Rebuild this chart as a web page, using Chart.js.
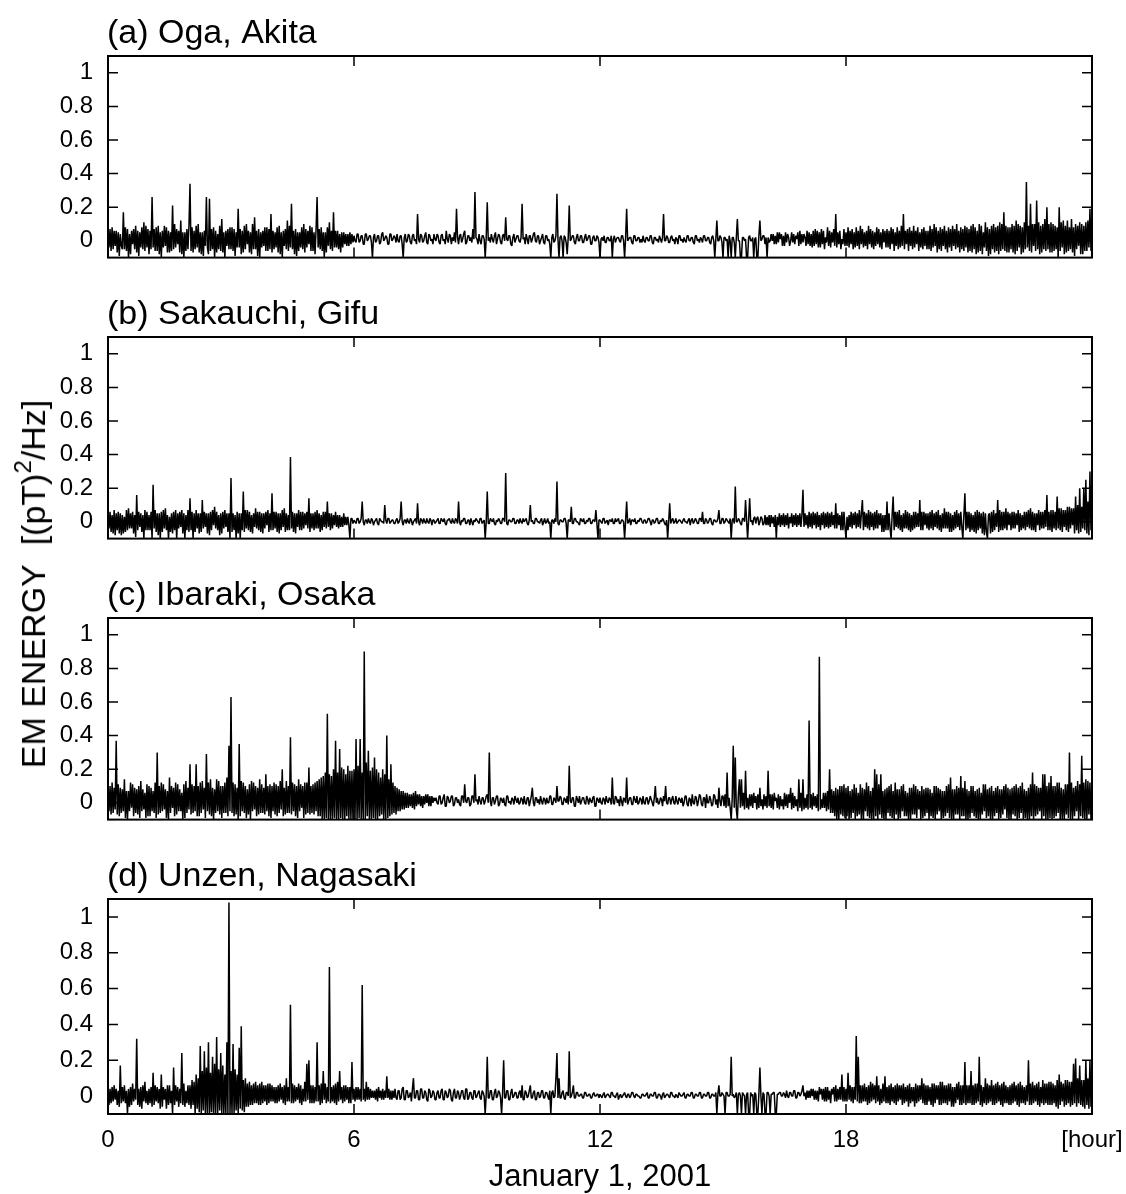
<!DOCTYPE html>
<html>
<head>
<meta charset="utf-8">
<script src="https://cdn.jsdelivr.net/npm/chart.js@4.4.1/dist/chart.umd.min.js"></script>
<style>
  body { margin: 0; background: #fff; }
  #page { position: relative; width: 1126px; height: 1194px; font-family: "Liberation Sans", Arial, sans-serif; color: #000; }
  #page canvas { position: absolute; left: 0; }
  #ylabel {
    position: absolute; left: 33px; top: 584px;
    transform: translate(-50%, -50%) rotate(-90deg);
    font-size: 34px; white-space: nowrap; line-height: 1;
  }
  #ylabel .sup { font-size: 24px; position: relative; top: -14px; }
</style>
</head>
<body>
<div id="page">
  <canvas id="panel-a" width="1126" height="281" style="top:6px"></canvas>
  <canvas id="panel-b" width="1126" height="281" style="top:287px"></canvas>
  <canvas id="panel-c" width="1126" height="281" style="top:568px"></canvas>
  <canvas id="panel-d" width="1126" height="345" style="top:849px"></canvas>
  <div id="ylabel">EM ENERGY&nbsp;&nbsp;[(pT)<span class="sup">2</span>/Hz]</div>
</div>
<script>
console.log('em-energy-panels');

// one sample every 90 s, 40 per row = 1 hour per row
const STEP_H = 0.025;

const xTicks = [0, 6, 12, 18, 24];
const yTicks = [0, 0.2, 0.4, 0.6, 0.8, 1];

const stations = ['(a) Oga, Akita', '(b) Sakauchi, Gifu', '(c) Ibaraki, Osaka', '(d) Unzen, Nagasaki'];

const oga = [
  .05,-.04,.07,-.06,.08,-.05,.06,-.03,.06,-.07,.05,-.09,.04,-.03,-.05,.17,-.05,.08,-.06,.07,-.1,.04,-.08,.06,-.02,.07,-.05,.09,-.07,.06,-.09,.05,-.04,.08,-.05,.11,-.06,.09,-.04,.07,
  -.08,.06,-.05,.26,-.04,.07,-.06,.08,-.06,.09,-.08,.05,-.1,.06,-.04,.09,-.03,.08,-.07,.06,-.07,.05,-.06,.21,-.05,.1,-.04,.07,-.02,.06,-.07,.12,-.08,.05,-.1,.05,-.06,.07,-.05,.09,
  .34,-.06,.08,-.07,.06,-.05,.09,-.04,.1,-.07,.05,-.08,.05,-.09,.06,-.03,.26,-.04,-.08,.25,-.06,.07,-.05,.08,-.1,.06,-.07,.04,-.05,.09,-.06,.13,-.07,.05,-.1,.06,-.03,.07,-.05,.08,
  -.05,.08,-.06,.07,-.09,.05,-.04,.19,-.04,.07,-.08,.06,-.07,.09,-.05,.1,-.02,.06,-.07,.05,-.08,.1,-.05,.14,-.05,.06,-.09,.07,-.1,.05,-.04,.06,-.03,.08,-.06,.08,-.06,.07,-.05,.16,
  -.07,.06,-.05,.05,-.04,.08,-.07,.09,-.08,.05,-.1,.06,-.03,.07,-.05,.12,-.06,.09,-.04,.22,-.05,.06,-.08,.07,-.09,.05,-.06,.05,-.04,.08,-.05,.1,-.07,.07,-.04,.06,-.02,.09,-.06,.08,
  -.06,.05,-.08,.07,.26,-.04,.07,-.05,.08,-.06,.05,-.1,.05,-.07,.08,-.03,.11,-.05,.06,-.06,.17,-.04,.06,-.04,.06,-.05,.04,-.07,.05,-.04,.05,-.02,.04,-.03,.04,-.03,.05,-.02,.04,-.01,
  .03,.0,-.01,.04,.04,-.01,.0,.03,.03,-.02,-.02,.04,.04,.0,.01,.03,.03,-.01,-.1,.02,.04,-.01,.0,.03,.03,-.02,-.01,.04,.05,.0,.01,.03,.02,-.02,-.02,.04,.04,.0,.01,.03,
  .02,-.01,.04,.0,-.01,.03,.03,-.02,-.1,.02,.04,-.01,.0,.04,.03,-.01,-.02,.03,.04,.0,.01,-.02,.16,.01,-.01,.04,.03,-.01,.0,.03,.05,-.01,-.02,.04,.03,.0,.01,-.02,.04,.01,
  .0,.04,.03,-.01,-.02,.03,.04,.0,.01,-.02,.06,.01,-.01,.04,.03,-.02,.02,.0,.05,-.01,.19,.02,-.02,.03,.04,-.01,.01,.04,.06,-.02,-.01,.03,.03,.0,.02,-.01,.07,.01,.29,.02,
  .01,-.02,.04,.0,-.02,.03,.03,.01,-.1,.02,.23,.0,.02,-.01,.04,.01,-.01,.03,.05,-.02,.01,.04,.03,-.01,-.02,.03,.04,.0,.14,.01,.0,.03,.03,-.02,-.03,.02,.04,-.01,.01,.03,
  .03,.0,-.01,.02,.22,.01,.02,-.02,.04,.01,-.02,.03,.03,-.01,.01,.04,.05,.0,-.01,.03,.03,-.02,.0,.02,.04,-.01,-.02,.03,.03,.0,.01,-.02,-.1,.02,.04,-.01,.0,.03,.28,.01,
  -.1,.02,.03,.0,-.1,.03,.02,-.01,-.08,.02,.21,.0,.01,.03,.03,-.01,-.02,.02,.04,.0,.0,.03,.03,-.01,-.01,.02,.04,.0,.01,.03,.03,-.02,-.02,.02,.03,.0,.0,.03,.02,-.01,
  -.1,.01,.02,.0,.03,-.01,-.01,.02,.02,.0,.0,.03,-.1,.01,.03,-.01,.01,.02,.02,.0,-.01,.03,.03,.0,-.1,.02,.19,.0,.01,.02,.02,-.01,-.02,.03,.03,.0,.0,.02,.02,-.01,
  .01,-.01,.03,.0,-.01,.02,.02,.0,.0,.03,.03,-.01,-.02,.02,.02,.0,.01,-.01,.03,.01,-.01,.02,.16,.0,.0,.03,.02,-.01,-.01,.02,.03,.0,.01,-.02,.02,.01,-.02,.03,.03,.0,
  .01,-.01,.02,.0,-.01,.03,.03,.0,.0,.02,.02,-.01,-.02,.03,.03,.0,.01,-.01,.02,.01,-.01,.03,.03,.0,.0,.02,.02,-.01,-.02,.02,.03,.0,-.1,.01,.12,.0,.0,.03,.02,-.01,
  -.1,.02,.02,.0,.01,-.1,.03,.0,-.1,.02,.02,-.01,-.1,.02,.13,.0,.0,-.1,-.1,.02,.02,.0,.01,-.1,-.1,.02,.03,.0,.0,.02,-.1,.01,.02,-.1,-.1,.03,.12,.0,.01,.03,
  .03,-.02,.02,-.1,.02,-.01,.0,.04,.0,.04,-.02,.03,-.02,.05,-.01,.05,.01,.04,-.03,.03,-.03,.05,-.01,.04,.02,-.03,.0,.05,-.01,.04,-.02,.03,.01,.05,-.03,.06,-.02,.04,-.01,.04,
  .02,-.03,.06,-.02,.05,-.03,.04,-.04,.06,-.03,.07,-.02,.06,-.04,.05,-.04,.07,-.02,.06,-.05,.02,-.01,.08,-.03,.06,-.04,.05,-.01,.07,-.03,.16,-.04,.05,-.02,.06,-.05,.01,-.02,.07,-.03,
  .05,-.03,.08,-.04,.06,-.02,.07,-.05,.05,-.04,.08,-.03,.06,-.05,.09,-.02,.07,-.04,.05,-.03,.06,-.05,.09,-.02,.07,-.04,.06,-.05,.05,-.03,.08,-.02,.07,-.04,.05,-.05,.07,-.01,.06,-.04,
  .07,-.04,.06,-.05,.08,-.02,.07,-.06,.05,-.03,.08,-.05,.06,-.04,.09,-.03,.16,-.05,.06,-.02,.07,-.06,.08,-.03,.06,-.05,.09,-.04,.06,-.02,.08,-.06,.05,-.04,.07,-.05,.08,-.03,.06,-.05,
  .06,-.05,.09,-.06,.07,-.04,.1,-.03,.08,-.07,.06,-.05,.08,-.06,.07,-.03,.09,-.05,.06,-.07,.08,-.04,.07,-.06,.09,-.03,.07,-.05,.1,-.04,.06,-.07,.08,-.05,.07,-.06,.09,-.04,.08,-.07,
  .07,-.06,.09,-.07,.1,-.05,.08,-.08,.06,-.07,.1,-.06,.09,-.08,.05,-.04,.11,-.06,.08,-.09,.07,-.08,.09,-.05,.1,-.07,.08,-.06,.09,-.08,.11,-.06,.1,-.05,.17,-.06,.09,-.07,.08,-.07,
  .08,-.05,.1,-.07,.09,-.08,.12,-.06,.1,-.04,.09,-.08,.08,-.07,.11,-.05,.35,-.04,.09,-.06,.22,-.07,.1,-.03,.1,-.06,.24,-.05,.11,-.08,.09,-.07,.1,-.05,.13,-.06,.2,-.05,.1,-.07,
  .11,-.07,.1,-.06,.09,-.05,.08,-.1,.2,-.06,.11,-.04,.12,-.08,.09,-.07,.12,-.06,.08,-.05,.13,-.07,.08,-.09,.1,-.05,.09,-.03,.11,-.08,.1,-.08,.09,-.06,.11,-.06,.12,-.04,.19,-.06
];

const sakauchi = [
  .05,-.04,.06,-.06,.04,-.07,.07,-.08,.05,-.05,.06,-.07,.05,-.08,.04,-.07,.03,-.06,.07,-.05,.08,-.04,.05,-.04,.06,-.07,.04,-.09,.16,-.05,.06,-.03,.05,-.06,.04,-.1,.07,-.05,.06,-.05,
  .04,-.05,.06,-.1,.22,-.04,.07,-.06,.05,-.08,.05,-.1,.06,-.06,.07,-.04,.08,-.05,.04,-.1,.03,-.06,.05,-.07,.06,-.05,.07,-.1,.05,-.04,.06,-.03,.07,-.07,.05,-.1,.04,-.05,.07,-.06,
  .14,-.05,.06,-.1,.05,-.06,.07,-.04,.05,-.07,.05,-.06,.13,-.04,.06,-.03,.05,-.07,.05,-.08,.06,-.05,.07,-.02,.09,-.04,.06,-.05,.04,-.08,.05,-.07,.06,-.04,.07,-.03,.05,-.06,.05,-.1,
  .26,-.06,.05,-.05,.04,-.1,.06,-.07,.05,-.1,.05,-.05,.18,-.06,.07,-.04,.07,-.05,.06,-.06,.04,-.07,.05,-.03,.08,-.04,.06,-.05,.06,-.06,.05,-.07,.05,-.04,.06,-.02,.07,-.06,.05,-.05,
  .17,-.05,.06,-.04,.06,-.06,.05,-.07,.05,-.05,.07,-.03,.08,-.06,.05,-.05,.04,-.05,.385,-.04,.06,-.06,.05,-.07,.05,-.03,.07,-.05,.06,-.05,.06,-.04,.05,-.02,.06,-.04,.14,-.06,.05,-.04,
  .05,-.05,.06,-.04,.07,-.04,.05,-.06,.04,-.05,.06,-.03,.06,-.04,.12,-.03,.05,-.05,.05,-.04,.04,-.02,.06,-.03,.04,-.04,.04,-.03,.03,-.03,.05,-.02,.03,-.02,.03,-.02,-.1,.02,.02,-.01,
  .01,.0,-.01,.02,.02,-.01,.0,.02,.12,.0,-.02,.01,.01,-.01,.02,.0,-.01,.02,.01,-.02,.0,.01,.02,-.01,-.02,.02,.01,.0,.0,-.01,.1,.01,-.01,.02,.02,-.01,.0,.01,.01,-.01,
  -.01,.01,.02,-.01,.0,.02,.12,.0,-.02,.01,.01,-.01,.02,.0,-.01,.02,.01,-.02,.0,.01,.02,-.01,.11,.0,-.02,.02,.01,-.01,.02,.0,-.01,.02,.0,-.01,.02,.01,-.02,.01,.01,-.01,
  .0,.01,.02,-.01,-.01,.02,.01,.0,.02,-.01,-.02,.01,.01,.02,.0,-.01,.02,.0,-.01,.02,.01,-.01,.12,.0,-.02,.01,.0,.02,.02,-.01,-.01,.01,.01,-.02,.02,.0,-.02,.01,.0,.02,
  .01,.0,-.01,.02,.02,-.01,.0,.01,-.1,.0,.18,-.01,-.01,.02,.01,.0,.02,-.01,-.02,.01,.0,.02,.01,-.01,-.01,.02,.02,.0,.29,-.01,-.02,.01,.01,.0,.0,.02,.02,-.01,-.01,.01,
  .01,-.01,.02,.0,-.01,.02,.0,.01,.02,-.01,-.02,.01,.1,.0,.01,-.01,-.01,.02,.02,.0,.0,-.01,.01,.02,-.02,.0,.02,-.01,.0,.02,-.01,.0,-.1,.01,.01,-.01,.02,.0,.24,-.01,
  -.02,.01,.01,.0,.0,.02,.02,-.01,-.1,.01,.01,.0,.09,-.01,-.01,.02,.02,.0,.0,-.01,-.02,.02,.01,.0,.02,-.01,-.01,.01,.0,.02,.02,-.01,-.01,.01,.01,.0,.07,-.01,-.1,.01,
  .01,.0,-.01,.02,.02,-.01,.0,.01,-.02,.01,.01,.0,.02,-.01,-.01,.02,.0,.01,.02,-.01,-.01,.01,.01,.0,-.1,.01,.12,-.01,.0,.02,-.02,.01,.01,.0,.02,-.01,-.01,.01,.0,.02,
  .02,.0,-.01,.01,.01,-.01,.0,.02,.02,.0,-.02,.01,.01,-.01,.0,.02,.02,-.01,-.01,.01,.0,.02,.01,-.01,-.02,.01,-.1,.0,.11,-.01,.01,.02,-.01,.0,.02,-.01,.0,.01,.01,.0,
  -.01,.01,.02,.0,.0,-.01,.01,.02,-.02,.01,.02,-.01,.0,.02,.01,-.01,-.01,.02,.02,.0,.06,-.01,-.01,.02,.01,-.01,.0,.02,.02,-.01,-.02,.01,.01,.0,.0,.02,.07,-.01,-.01,.02,
  .02,-.01,.0,.02,.01,.0,-.01,.02,-.1,.01,.02,-.01,.21,.0,.0,.02,.01,-.01,-.02,.02,.02,.0,.13,.01,-.1,.01,.14,.0,.01,-.02,.02,.03,-.01,.02,.03,-.02,.0,.03,.02,-.02,
  -.01,.04,-.02,.03,-.02,.04,-.03,.04,-.01,.03,-.03,.04,-.1,.03,-.02,.05,-.03,.04,-.02,.05,-.03,.04,-.02,.05,-.04,.03,-.01,.05,-.03,.04,-.02,.05,-.03,.04,-.02,.05,-.03,.04,.19,-.03,
  .05,-.02,.04,-.04,.06,-.03,.05,-.04,.06,-.02,.05,-.04,.06,-.03,.04,-.05,.05,-.02,.06,-.04,.05,-.03,.06,-.04,.05,-.03,.06,-.02,.04,-.04,.11,-.04,.05,-.02,.04,-.05,.06,-.05,.06,-.03,
  -.1,.03,-.05,.04,-.03,.06,-.04,.05,-.02,.06,-.04,.05,-.03,.07,-.04,.05,.13,-.05,.06,-.03,.05,-.04,.07,-.05,.06,-.03,.05,-.05,.06,-.04,.07,-.04,.05,-.02,.05,-.06,.04,-.06,.04,-.05,
  .12,-.05,.05,-.04,-.1,.04,.15,-.05,.06,-.03,.06,-.04,.07,-.05,.04,-.06,.05,-.04,.07,-.04,.06,-.05,.05,-.06,.04,-.05,.06,-.04,.06,-.03,.05,-.03,.13,-.05,.06,-.05,.06,-.02,.05,-.04,
  .05,-.05,.06,-.04,.07,-.05,.05,-.03,.06,-.04,.07,-.05,.04,-.06,.05,-.04,.08,-.04,.06,-.04,.06,-.06,.05,-.06,.04,-.05,.06,-.04,.07,-.03,.05,-.05,.06,-.03,-.1,.04,.17,-.05,.06,-.04,
  .06,-.06,.05,-.05,.04,-.06,.06,-.07,.07,-.05,.06,-.04,.05,-.07,.06,-.08,.05,-.06,-.1,.04,.05,-.07,.06,-.06,.07,-.05,.05,-.03,.13,-.06,.07,-.05,.06,-.05,.06,-.04,.08,-.05,.06,-.02,
  .05,-.05,.06,-.04,.06,-.04,.05,-.02,.07,-.06,.05,-.05,.04,-.04,.06,-.05,.06,-.03,.07,-.04,.08,-.05,.06,-.05,.05,-.06,.05,-.02,.07,-.05,.06,-.04,.06,-.04,.07,-.03,.16,-.05,.06,-.05,
  .07,-.06,.07,-.04,.06,-.05,.15,-.04,.08,-.05,.08,-.06,.07,-.03,.07,-.05,.09,-.06,.09,-.04,.08,-.02,.08,-.07,.15,-.05,.1,-.07,.2,-.06,.09,-.04,.2,-.05,.25,-.07,.12,-.08,.3,-.05
];

const ibaraki = [
  .06,-.05,.1,-.07,.12,-.06,.09,-.04,.37,-.07,.11,-.08,.09,-.06,.08,-.05,.14,-.09,.07,-.1,.07,-.05,.12,-.03,.11,-.08,.09,-.06,.08,-.07,.1,-.09,.13,-.05,.08,-.04,.06,-.09,.11,-.08,
  .1,-.08,.09,-.05,.07,-.06,.12,-.09,.3,-.07,.1,-.06,.12,-.05,.11,-.04,.08,-.09,.07,-.1,.15,-.06,.1,-.03,.09,-.08,.12,-.07,.11,-.05,.08,-.05,.06,-.1,.11,-.09,.13,-.06,.09,-.04,
  .23,-.07,.11,-.06,.1,-.05,.23,-.08,.1,-.08,.12,-.06,.13,-.04,.09,-.09,.29,-.05,.12,-.07,.14,-.08,.09,-.1,.08,-.06,.14,-.05,.13,-.07,.1,-.09,.1,-.06,.12,-.06,.15,-.08,.34,-.05,
  .63,-.06,.12,-.08,.11,-.07,.09,-.1,.35,-.08,.13,-.05,.12,-.06,.1,-.09,.08,-.07,.11,-.1,.13,-.05,.12,-.04,.1,-.08,.09,-.07,.14,-.06,.11,-.06,.09,-.07,.17,-.05,.1,-.08,.11,-.09,
  .1,-.05,.12,-.07,.11,-.08,.1,-.06,.13,-.04,.2,-.08,.09,-.07,.13,-.06,.1,-.06,.39,-.07,.12,-.05,.11,-.08,.1,-.09,.14,-.05,.11,-.03,.1,-.09,.12,-.07,.12,-.06,.21,-.07,.1,-.06,
  .11,-.07,.12,-.05,.13,-.08,.14,-.08,.15,-.1,.16,-.1,.18,-.09,.53,-.1,.17,-.1,.16,-.1,.2,-.09,.37,-.1,.18,-.1,.32,-.09,.21,-.1,.2,-.1,.17,-.08,.22,-.1,.19,-.1,.19,-.1,
  .2,-.1,.38,-.1,.22,-.09,.38,-.1,.18,-.1,.9,-.1,.24,-.08,.31,-.1,.19,-.1,.21,-.09,.27,-.1,.2,-.1,.18,-.08,.15,-.07,.2,-.1,.17,-.1,.4,-.09,.14,-.08,.23,-.07,.12,-.06,
  .1,-.07,.09,-.05,.08,-.05,.07,-.04,.07,-.04,.06,-.03,.06,-.03,.05,-.02,.05,-.03,.06,-.04,.07,-.02,.05,-.01,.05,-.02,.04,-.03,.04,-.01,.05,.0,.05,-.02,.04,-.02,.04,.0,.03,.01,
  .03,.0,-.01,.04,.04,-.01,.0,.03,.05,-.02,-.02,.04,.03,.0,.01,.04,.04,-.02,-.01,.03,.03,.0,.02,-.01,-.02,.04,.04,.0,.11,.01,.0,.03,.03,-.02,-.01,.04,.04,.0,.17,.01,
  .02,-.01,.04,.01,-.01,.03,.03,-.01,.01,.04,.05,.0,.3,.01,-.02,.03,.03,-.01,.01,.04,.04,-.02,-.01,.03,.02,.0,.03,-.01,-.02,.04,.04,.0,.01,-.01,.03,.02,-.01,.04,.02,.0,
  .03,-.01,.0,.03,.02,-.01,.04,.0,-.01,.03,.03,-.02,.01,.04,.09,.0,-.02,.03,.03,.0,.02,-.01,.04,.01,-.01,.03,.02,-.01,.03,.0,.0,.04,.04,-.01,-.01,.03,.02,.0,.1,.01,
  .01,.04,.03,-.01,-.01,.03,.02,.0,.04,-.01,.22,.01,.0,.03,.03,-.02,-.02,.04,.02,.0,.04,-.01,.01,.03,.03,.0,-.01,.04,.02,-.01,.03,.01,.0,.03,.04,-.02,-.02,.03,.02,.0,
  .03,.0,-.01,.03,.02,-.01,.04,.01,.0,.03,.02,-.01,.15,.0,-.01,.04,.03,.0,.02,-.02,.04,.01,-.02,.03,.02,.0,.15,-.01,.01,.03,.03,-.01,-.01,.04,.02,.0,.04,-.01,.0,.03,
  .02,-.01,.04,.0,-.01,.03,.03,-.01,.01,.04,.02,.0,-.02,.03,.1,.0,.03,-.01,.0,.03,.02,-.02,.04,.01,.1,.0,-.01,.03,.03,-.01,.02,.04,.0,-.01,.04,.01,-.01,.03,.02,.0,
  .03,-.02,.0,.04,.04,-.01,-.02,.03,.02,-.02,.05,.0,-.01,.04,.03,-.02,.01,.05,.04,-.01,-.02,.03,.03,-.03,.05,.0,.0,.04,.02,-.02,-.01,.05,.04,-.01,.02,-.03,.09,.01,-.02,.04,
  .04,-.02,.05,-.03,.18,-.02,.03,-.03,-.1,.03,.34,-.03,.27,-.04,-.1,.05,.14,-.03,.14,-.02,.06,-.04,.19,-.03,.03,-.04,.05,-.02,.05,-.03,.06,.0,.04,-.04,.05,-.03,.09,-.02,.02,-.04,
  .05,-.02,.04,-.03,.19,-.02,.05,-.03,.05,-.04,.06,.01,.03,-.03,.05,-.04,.04,-.02,.02,-.04,.06,-.02,.05,-.03,.05,.0,.09,-.04,.06,-.03,.04,-.02,.02,-.05,.14,-.03,.06,-.05,.14,-.04,
  .03,-.03,.05,-.04,.49,-.03,.05,-.04,.06,-.02,.04,-.03,.05,-.05,.87,-.04,.02,-.03,.06,-.03,.06,-.05,.07,-.04,.2,-.06,.08,-.06,.07,-.08,.09,-.1,.08,-.1,.1,-.07,.1,-.08,.11,-.09,
  .09,-.08,.1,-.1,.07,-.09,.08,-.06,.11,-.1,.09,-.08,.06,-.07,.11,-.1,.09,-.1,.08,-.05,.12,-.08,.1,-.09,.07,-.1,.09,-.1,.2,-.08,.17,-.1,.11,-.07,.17,-.09,.07,-.1,.08,-.1,
  .09,-.06,.1,-.08,.11,-.09,.07,-.1,.12,-.07,.08,-.1,.08,-.09,.1,-.05,.11,-.08,.07,-.08,.06,-.1,.09,-.1,.09,-.07,.11,-.07,.1,-.09,.08,-.04,.07,-.1,.1,-.09,.08,-.08,.09,-.06,
  .09,-.1,.08,-.08,.06,-.09,.1,-.1,.1,-.07,.09,-.05,.08,-.1,.07,-.09,.07,-.08,.1,-.06,.11,-.09,.15,-.1,.08,-.1,.08,-.07,.1,-.07,.09,-.1,.16,-.08,.09,-.08,.13,-.1,.08,-.1,
  .07,-.09,.1,-.06,.1,-.08,.07,-.09,.08,-.1,.09,-.1,.06,-.07,.11,-.05,.11,-.09,.08,-.08,.09,-.1,.1,-.1,.07,-.08,.09,-.06,.1,-.1,.08,-.09,.08,-.07,.1,-.04,.11,-.09,.09,-.1,
  .08,-.1,.09,-.07,.1,-.08,.11,-.1,.09,-.09,.1,-.06,.12,-.1,.08,-.09,.07,-.1,.09,-.1,.11,-.08,.18,-.1,.11,-.08,.1,-.07,.09,-.05,.09,-.1,.17,-.08,.17,-.1,.1,-.1,.12,-.09,
  .16,-.1,.1,-.09,.1,-.08,.12,-.06,.12,-.1,.09,-.1,.08,-.1,.11,-.07,.11,-.09,.3,-.1,.12,-.1,.09,-.08,.1,-.05,.13,-.1,.11,-.08,.28,-.09,.12,-.1,.14,-.1,.13,-.07,.12,-.1
];

const unzen = [
  .03,-.05,.04,-.04,.05,-.03,.06,-.02,.04,-.05,.03,-.06,.17,-.04,.05,-.03,.06,-.04,.03,-.1,.04,-.06,.05,-.05,.07,-.03,.04,-.02,.32,-.05,.04,-.06,.05,-.07,.06,-.03,.08,-.04,.03,-.05,
  .04,-.04,.05,-.06,.13,-.05,.06,-.03,.05,-.04,.04,-.07,.12,-.06,.05,-.02,.04,-.07,.06,-.05,.06,-.04,.03,-.1,.16,-.05,.06,-.03,.05,-.06,.04,-.04,.24,-.05,.07,-.06,.03,-.04,.06,-.05,
  .06,-.07,.09,-.05,.08,-.1,.12,-.07,.1,-.09,.28,-.1,.14,-.08,.25,-.1,.16,-.1,.3,-.1,.13,-.09,.22,-.1,.18,-.1,.33,-.1,.15,-.08,.24,-.1,.17,-.1,.12,-.1,.3,-.1,1.08,-.1,
  .14,-.1,.29,-.1,.15,-.08,.12,-.1,.27,-.07,.39,-.08,.09,-.09,.1,-.06,.07,-.06,.08,-.05,.06,-.05,.07,-.04,.08,-.04,.06,-.05,.07,-.05,.08,-.04,.06,-.03,.06,-.05,.07,-.04,.07,-.03,
  .06,-.03,.05,-.04,.05,-.04,.06,-.03,.07,-.02,.05,-.04,.06,-.05,.1,-.03,.05,-.03,.51,-.04,.07,-.04,.06,-.03,.05,-.02,.07,-.04,.06,-.05,.04,-.03,.08,-.03,.18,-.02,.2,-.04,.06,-.04,
  .06,-.04,.05,-.03,.3,-.03,.06,-.05,.07,-.04,.14,-.02,.07,-.04,.05,-.03,.72,-.04,.05,-.03,.06,-.04,.07,-.05,.08,-.03,.14,-.02,.05,-.04,.06,-.03,.06,-.02,.05,-.04,.05,-.04,.19,-.02,
  .04,-.03,.05,-.02,.05,-.02,.04,-.03,.62,-.02,.04,-.03,.08,-.02,.05,-.02,.04,-.01,.03,-.01,.03,-.02,.04,-.03,.05,-.01,.03,-.02,.04,-.02,.03,-.01,.11,-.01,.04,-.02,.03,-.02,.03,-.01,
  .04,-.01,-.02,.03,.03,-.02,-.01,.04,.05,-.02,-.02,.03,.03,-.01,.0,.02,-.03,.04,.1,-.01,-.01,.03,.03,-.02,-.02,.04,.04,-.01,-.01,.03,.02,-.02,-.03,.04,.03,-.01,.0,.03,.02,-.02,
  -.02,.02,.03,-.01,-.01,.03,.04,-.02,-.02,.03,.02,-.01,.0,.04,.03,-.02,-.03,.02,.04,-.01,-.01,.03,.02,-.02,.0,.03,.03,-.01,-.02,.04,.04,-.02,-.01,.02,.02,-.01,-.02,.03,.03,-.01,
  .0,.02,.03,-.01,-.02,.03,.02,.0,-.1,.01,.22,-.01,-.01,.03,.03,-.02,-.02,.02,.04,-.01,.0,.03,.02,-.01,-.1,.02,.2,-.01,-.01,.03,.03,-.02,-.02,.02,.04,-.01,.0,.02,.02,-.01,
  -.01,.02,.03,-.01,.06,-.02,-.02,.03,.02,-.01,.0,.03,.06,-.01,-.01,.02,.03,-.02,-.02,.02,.02,-.01,.0,.03,.03,-.01,-.01,.02,.02,.0,-.02,.03,-.1,.02,.03,-.01,.0,.1,.24,-.01,
  .1,-.01,-.01,.02,.03,-.01,-.02,.02,.02,.0,.25,-.01,.0,.02,.06,-.01,-.01,.02,.02,.0,.0,.01,.01,-.01,-.01,.02,.02,.0,.0,.01,.01,-.01,-.01,.01,.02,.0,.0,.01,.01,-.01,
  .01,.0,-.01,.01,.02,-.01,.0,.01,.01,.0,-.01,.02,.02,.0,.0,-.01,.01,.02,-.02,.0,.01,-.01,.0,.01,.02,.0,-.01,.01,.01,-.01,.0,.02,.02,.0,-.01,.01,.01,.0,.0,-.01,
  -.01,.01,.01,.0,.0,.01,.02,-.01,-.01,.01,.01,.0,.0,.02,.02,-.01,-.01,.01,.01,.0,-.02,.01,.02,-.01,.0,.01,.01,.0,-.01,.02,.02,.0,.0,-.01,.01,.0,-.01,.02,.01,.0,
  .0,.01,.02,-.01,-.01,.01,.01,.0,.0,.02,.02,-.01,-.01,.01,.01,.0,.0,.02,.02,-.01,-.01,.01,.01,.0,.0,.02,.02,-.01,-.01,.01,.01,.0,.0,.02,-.1,.01,.06,.0,.0,.02,
  .01,.0,-.1,.02,.02,.0,.0,.01,.22,.0,.01,-.01,.0,.02,-.1,.01,.02,.0,-.1,.02,.01,.0,-.1,.01,.02,-.1,-.1,.02,.0,.01,-.1,.02,.01,-.1,-.1,.01,.16,.0,-.1,.02,
  .01,-.1,-.1,.02,.02,.0,-.1,.01,.01,.02,.02,-.1,-.1,.01,.01,.02,.02,.0,.0,.02,.01,-.01,.03,.0,-.01,.02,.02,.0,.0,.03,.03,-.01,-.01,.02,.02,.0,.01,.03,.06,.0,
  .02,-.02,.03,-.01,.03,-.01,.04,.0,.04,-.02,.03,-.02,.03,-.03,.05,.01,.04,-.02,.04,-.03,.05,-.03,.05,-.02,.03,-.04,.04,.01,.05,-.03,.06,-.03,.04,-.02,.05,-.02,.12,-.03,.05,-.03,
  .04,-.03,.13,-.02,.06,-.03,.05,-.04,.05,-.02,.335,-.03,.22,-.04,.06,-.04,.06,-.03,.07,-.03,.05,-.05,.06,-.04,.08,-.03,.07,-.02,.06,-.04,.11,-.03,.06,-.05,.04,-.04,.07,-.03,.11,-.04,
  .05,-.04,.06,-.05,.07,-.03,.05,-.04,.06,-.05,.07,-.03,.06,-.02,.06,-.05,.07,-.04,.05,-.03,.06,-.06,.07,-.04,.05,-.03,.05,-.06,.07,-.04,.06,-.03,.06,-.02,.1,-.04,.07,-.05,.06,-.05,
  .06,-.03,.05,-.05,.07,-.06,.07,-.04,.06,-.02,.06,-.05,.08,-.05,.08,-.04,.06,-.04,.06,-.05,.07,-.03,.07,-.06,.05,-.06,.05,-.04,.07,-.02,.08,-.05,.06,-.05,.06,-.04,.19,-.05,.06,-.04,
  .06,-.04,.14,-.05,.06,-.05,.07,-.04,.07,-.03,.22,-.05,.06,-.06,.05,-.04,.1,-.05,.07,-.04,.06,-.03,.09,-.05,.06,-.05,.07,-.04,.08,-.03,.06,-.05,.07,-.06,.08,-.04,.06,-.04,.05,-.05,
  .06,-.05,.07,-.04,.08,-.03,.06,-.05,.07,-.06,.08,-.04,.06,-.04,.05,-.05,.06,-.03,.2,-.05,.07,-.05,.08,-.04,.06,-.03,.07,-.05,.08,-.06,.05,-.04,.09,-.05,.07,-.04,.07,-.05,.08,-.05,
  .08,-.05,.07,-.04,.06,-.06,.09,-.07,.12,-.05,.08,-.03,.07,-.06,.09,-.05,.09,-.04,.08,-.06,.08,-.05,.18,-.04,.21,-.06,.1,-.04,.17,-.05,.09,-.06,.09,-.07,.2,-.05,.1,-.07,.2,-.06
];

const FONT = '"Liberation Sans", Arial, sans-serif';
const TICK_LEN = 10;

// gnuplot-like box: full border, inward ticks on all four sides, label above the box
const boxFrame = {
  id: 'boxFrame',
  afterDatasetsDraw(chart, args, opts) {
    const { ctx, chartArea: a, scales: { x, y } } = chart;
    ctx.save();
    ctx.strokeStyle = '#000';
    ctx.lineWidth = 1.5;
    ctx.beginPath();
    xTicks.forEach(v => {
      const px = x.getPixelForValue(v);
      ctx.moveTo(px, a.top); ctx.lineTo(px, a.top + TICK_LEN);
      ctx.moveTo(px, a.bottom); ctx.lineTo(px, a.bottom - TICK_LEN);
    });
    yTicks.forEach(v => {
      const py = y.getPixelForValue(v);
      ctx.moveTo(a.left, py); ctx.lineTo(a.left + TICK_LEN, py);
      ctx.moveTo(a.right, py); ctx.lineTo(a.right - TICK_LEN, py);
    });
    ctx.stroke();
    ctx.lineWidth = 2;
    ctx.strokeRect(a.left, a.top, a.right - a.left, a.bottom - a.top);

    ctx.fillStyle = '#000';
    ctx.font = '34px ' + FONT;
    ctx.textAlign = 'left';
    ctx.textBaseline = 'alphabetic';
    ctx.fillText(opts.text, a.left - 1, a.top - 13);
    ctx.restore();
  }
};

function makePanel(canvasId, title, values, isBottom) {
  const points = values.map((v, i) => ({ x: i * STEP_H, y: v }));

  return new Chart(document.getElementById(canvasId), {
    type: 'line',
    data: {
      datasets: [{
        data: points,
        borderColor: '#000',
        borderWidth: 1.5,
        borderJoinStyle: 'bevel',
        pointRadius: 0,
        tension: 0,
        clip: 0,
      }],
    },
    options: {
      responsive: false,
      animation: false,
      devicePixelRatio: 1,
      parsing: false,
      normalized: true,
      events: [],
      layout: { padding: { top: 50, right: 34, left: 0, bottom: 0 } },
      plugins: {
        legend: { display: false },
        tooltip: { enabled: false },
        boxFrame: { text: title },
      },
      scales: {
        x: {
          type: 'linear',
          min: 0,
          max: 24,
          afterBuildTicks: s => { s.ticks = xTicks.map(v => ({ value: v })); },
          afterFit: s => {
            s.height = isBottom ? 80 : 17;
            // keep the plot box the same width in every panel
            s.paddingLeft = 0;
            s.paddingRight = 0;
          },
          grid: { display: false, drawTicks: false },
          border: { display: false },
          ticks: {
            display: isBottom,
            padding: 12,
            color: '#000',
            maxRotation: 0,
            autoSkip: false,
            font: { family: FONT, size: 24 },
            callback: v => (v === 24 ? '[hour]' : String(v)),
          },
          title: {
            display: isBottom,
            text: 'January 1, 2001',
            color: '#000',
            font: { family: FONT, size: 31 },
            padding: { top: 0, bottom: -2 },
          },
        },
        y: {
          min: -0.1,
          max: 1.1,
          afterBuildTicks: s => { s.ticks = yTicks.map(v => ({ value: v })); },
          afterFit: s => { s.width = 108; },
          grid: { display: false, drawTicks: false },
          border: { display: false },
          ticks: {
            padding: 15,
            color: '#000',
            font: { family: FONT, size: 24 },
            callback: v => String(v),
          },
        },
      },
    },
    plugins: [boxFrame],
  });
}

makePanel('panel-a', stations[0], oga, false);
makePanel('panel-b', stations[1], sakauchi, false);
makePanel('panel-c', stations[2], ibaraki, false);
makePanel('panel-d', stations[3], unzen, true);
</script>
</body>
</html>
